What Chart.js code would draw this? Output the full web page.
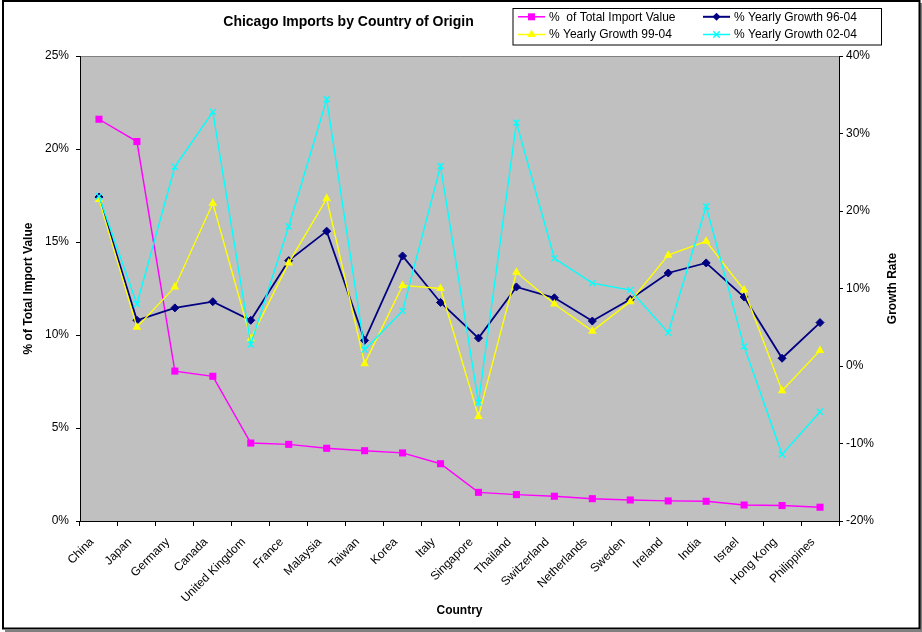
<!DOCTYPE html>
<html>
<head>
<meta charset="utf-8">
<script src="https://cdn.jsdelivr.net/npm/chart.js@4.4.1/dist/chart.umd.min.js"></script>
<style>
  html, body { margin: 0; padding: 0; background: #fff; }
  #wrap { width: 922px; height: 632px; position: relative; }
</style>
</head>
<body>
<div id="wrap"><canvas id="c" width="922" height="632"></canvas></div>
<script>
const categories = ["China","Japan","Germany","Canada","United Kingdom","France","Malaysia","Taiwan","Korea","Italy","Singapore","Thailand","Switzerland","Netherlands","Sweden","Ireland","India","Israel","Hong Kong","Philippines"];
const importShare = [21.6, 20.4, 8.06, 7.78, 4.19, 4.12, 3.91, 3.78, 3.66, 3.08, 1.54, 1.42, 1.33, 1.2, 1.13, 1.08, 1.06, 0.86, 0.83, 0.74];
const growth9604 = [21.8, 5.9, 7.5, 8.3, 5.9, 13.6, 17.4, 3.3, 14.2, 8.2, 3.6, 10.2, 8.8, 5.8, 8.6, 12.0, 13.3, 8.9, 1.0, 5.6];
const growth9904 = [21.5, 5.0, 10.2, 21.0, 3.5, 13.3, 21.6, 0.3, 10.4, 10.0, -6.5, 12.1, 8.0, 4.5, 8.3, 14.3, 16.1, 9.8, -3.2, 2.0];
const growth0204 = [21.9, 8.0, 25.7, 32.8, 2.8, 18.0, 34.4, 2.1, 7.1, 25.8, -4.7, 31.4, 13.9, 10.7, 9.8, 4.3, 20.6, 2.5, -11.4, -5.9];
const seriesLabels = ["%  of Total Import Value", "% Yearly Growth 96-04", "% Yearly Growth 99-04", "% Yearly Growth 02-04"];
const seriesColors = ["#FF00FF", "#000080", "#FFFF00", "#00FFFF"];
const seriesMarkers = ["rect", "rectRot", "triangle", "crossRot"];

const FONT = "'Liberation Sans', Arial, Helvetica, sans-serif";
Chart.defaults.font.family = FONT;
Chart.defaults.font.size = 12;
Chart.defaults.color = "#000";

function drawMarker(ctx, style, x, y, color) {
  ctx.save();
  ctx.fillStyle = color; ctx.strokeStyle = color; ctx.lineWidth = 1.5;
  ctx.beginPath();
  if (style === "rect") {
    ctx.rect(x - 3.5, y - 3.5, 7, 7); ctx.fill();
  } else if (style === "rectRot") {
    ctx.moveTo(x, y - 4); ctx.lineTo(x + 4, y); ctx.lineTo(x, y + 4); ctx.lineTo(x - 4, y); ctx.closePath(); ctx.fill();
  } else if (style === "triangle") {
    ctx.moveTo(x, y - 5); ctx.lineTo(x + 4.3, y + 2.5); ctx.lineTo(x - 4.3, y + 2.5); ctx.closePath(); ctx.fill();
  } else {
    ctx.moveTo(x - 3.2, y - 3.2); ctx.lineTo(x + 3.2, y + 3.2);
    ctx.moveTo(x + 3.2, y - 3.2); ctx.lineTo(x - 3.2, y + 3.2); ctx.stroke();
  }
  ctx.restore();
}

const decor = {
  id: "decor",
  beforeDraw(chart) {
    const ctx = chart.ctx, a = chart.chartArea;
    ctx.save();
    ctx.fillStyle = "#fff";
    ctx.fillRect(0, 0, chart.width, chart.height);
    // outer frame with shadow
    ctx.strokeStyle = "#808080"; ctx.lineWidth = 2;
    ctx.beginPath(); ctx.moveTo(921, 3); ctx.lineTo(921, 631); ctx.lineTo(5, 631); ctx.stroke();
    ctx.strokeStyle = "#000"; ctx.lineWidth = 2;
    ctx.strokeRect(3, 1, 916.5, 627.5);
    // plot area
    ctx.fillStyle = "#C0C0C0";
    ctx.fillRect(a.left, a.top, a.right - a.left, a.bottom - a.top);
    ctx.strokeStyle = "#808080"; ctx.lineWidth = 1;
    ctx.beginPath(); ctx.moveTo(a.left, a.top + 0.5); ctx.lineTo(a.right, a.top + 0.5); ctx.stroke();
    ctx.restore();
  },
  afterDraw(chart) {
    const ctx = chart.ctx, a = chart.chartArea;
    ctx.save();
    // title
    ctx.fillStyle = "#000";
    ctx.font = "bold 14px " + FONT;
    ctx.textAlign = "center"; ctx.textBaseline = "middle";
    ctx.fillText("Chicago Imports by Country of Origin", 348.5, 22.5);
    // right axis title
    ctx.save();
    ctx.translate(893, (a.top + a.bottom) / 2);
    ctx.rotate(-Math.PI / 2);
    ctx.font = "bold 12px " + FONT;
    ctx.fillText("Growth Rate", 0, 0);
    ctx.restore();
    // legend
    ctx.fillStyle = "#fff";
    ctx.fillRect(513, 8.5, 368.5, 36.5);
    ctx.strokeStyle = "#000"; ctx.lineWidth = 1;
    ctx.strokeRect(513, 8.5, 368.5, 36.5);
    const pos = [[518, 16.8], [703, 16.8], [518, 34.5], [703, 34.5]];
    ctx.font = "12px " + FONT;
    ctx.textAlign = "left"; ctx.textBaseline = "middle";
    for (let i = 0; i < 4; i++) {
      const [x, y] = pos[i];
      ctx.strokeStyle = seriesColors[i]; ctx.lineWidth = i === 1 ? 2 : 1.5;
      ctx.beginPath(); ctx.moveTo(x, y); ctx.lineTo(x + 27, y); ctx.stroke();
      drawMarker(ctx, seriesMarkers[i], x + 13.5, y, seriesColors[i]);
      ctx.fillStyle = "#000";
      ctx.fillText(seriesLabels[i], x + 31, y + 0.5);
    }
    ctx.restore();
  }
};

function ds(i, data, axis, radius, bw) {
  return {
    label: seriesLabels[i],
    data: data,
    yAxisID: axis,
    borderColor: seriesColors[i],
    backgroundColor: seriesColors[i],
    pointBackgroundColor: seriesColors[i],
    pointBorderColor: seriesColors[i],
    pointStyle: seriesMarkers[i],
    pointRadius: radius,
    pointBorderWidth: bw,
    borderWidth: i === 1 ? 1.8 : 1.4,
    tension: 0,
    fill: false,
    order: 3 - i
  };
}

new Chart(document.getElementById("c"), {
  type: "line",
  data: {
    labels: categories,
    datasets: [
      ds(0, importShare, "y", 5, 0),
      ds(1, growth9604, "y1", 4, 1),
      ds(2, growth9904, "y1", 5, 0),
      ds(3, growth0204, "y1", 4.5, 1.3)
    ]
  },
  options: {
    responsive: false,
    animation: false,
    events: [],
    layout: { autoPadding: false, padding: { top: 56, left: 0, right: 0, bottom: 0 } },
    plugins: { legend: { display: false }, title: { display: false }, tooltip: { enabled: false } },
    scales: {
      x: {
        type: "category",
        offset: true,
        afterFit(s) { s.height = 111; },
        grid: { offset: true, drawOnChartArea: false, color: "#000", tickLength: 5, tickWidth: 1 },
        border: { display: true, color: "#000", width: 1 },
        ticks: { autoSkip: false, minRotation: 45, maxRotation: 45, padding: 9, labelOffset: -7, color: "#000", font: { size: 12 } },
        title: { display: true, text: "Country", font: { size: 12, weight: "bold" }, color: "#000", padding: { top: 0, bottom: 14 } }
      },
      y: {
        position: "left",
        min: 0, max: 25,
        afterFit(s) { s.width = 80; },
        grid: { drawOnChartArea: false, color: "#000", tickLength: 4 },
        border: { display: true, color: "#000", width: 1 },
        ticks: { stepSize: 5, padding: 7, color: "#000", callback: v => v + "%" },
        title: { display: true, text: "% of Total Import Value", font: { size: 12, weight: "bold" }, color: "#000", padding: { top: 21, bottom: 0 } }
      },
      y1: {
        position: "right",
        min: -20, max: 40,
        afterFit(s) { s.width = 83; },
        grid: { drawOnChartArea: false, color: "#000", tickLength: 4 },
        border: { display: true, color: "#000", width: 1 },
        ticks: { stepSize: 10, padding: 3, color: "#000", callback: v => v + "%" }
      }
    }
  },
  plugins: [decor]
});
</script>
</body>
</html>
